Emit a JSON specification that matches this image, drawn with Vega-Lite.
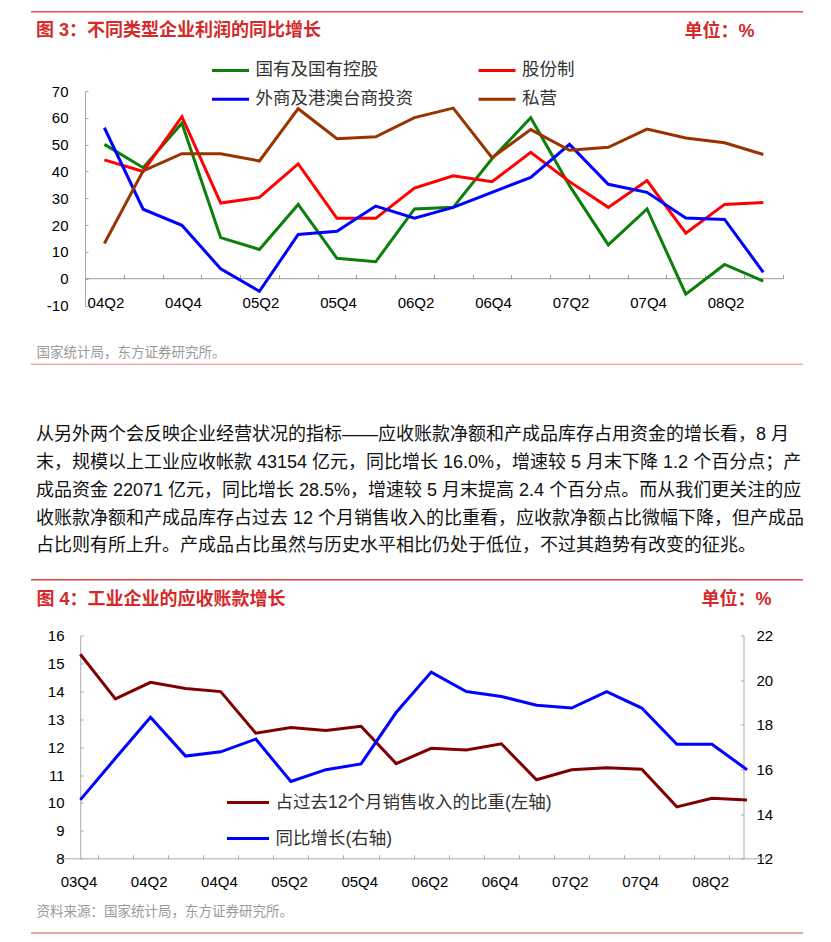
{
  "$schema": "https://vega.github.io/schema/vega-lite/v6.json",
  "padding": {"left": 30, "top": 10, "right": 0, "bottom": 0},
  "background": "white",
  "spacing": 59.5,
  "resolve": {"scale": {"color": "independent"}, "legend": {"color": "independent"}},
  "config": {
    "view": {"stroke": null},
    "font": "Liberation Sans, Noto Sans CJK SC",
    "axis": {"grid": false}
  },
  "datasets": {
    "c1": [
      {"q": "04Q2", "s": "国有及国有控股", "v": 50.1}, {"q": "04Q3", "s": "国有及国有控股", "v": 41.4}, {"q": "04Q4", "s": "国有及国有控股", "v": 58.0}, {"q": "05Q1", "s": "国有及国有控股", "v": 15.3}, {"q": "05Q2", "s": "国有及国有控股", "v": 10.9}, {"q": "05Q3", "s": "国有及国有控股", "v": 27.7}, {"q": "05Q4", "s": "国有及国有控股", "v": 7.6}, {"q": "06Q1", "s": "国有及国有控股", "v": 6.3}, {"q": "06Q2", "s": "国有及国有控股", "v": 26.0}, {"q": "06Q3", "s": "国有及国有控股", "v": 26.6}, {"q": "06Q4", "s": "国有及国有控股", "v": 44.7}, {"q": "07Q1", "s": "国有及国有控股", "v": 60.0}, {"q": "07Q2", "s": "国有及国有控股", "v": 34.7}, {"q": "07Q3", "s": "国有及国有控股", "v": 12.6}, {"q": "07Q4", "s": "国有及国有控股", "v": 26.0}, {"q": "08Q1", "s": "国有及国有控股", "v": -5.8}, {"q": "08Q2", "s": "国有及国有控股", "v": 5.3}, {"q": "08Q3", "s": "国有及国有控股", "v": -0.9},
      {"q": "04Q2", "s": "股份制", "v": 44.3}, {"q": "04Q3", "s": "股份制", "v": 40.0}, {"q": "04Q4", "s": "股份制", "v": 60.4}, {"q": "05Q1", "s": "股份制", "v": 28.2}, {"q": "05Q2", "s": "股份制", "v": 30.3}, {"q": "05Q3", "s": "股份制", "v": 42.8}, {"q": "05Q4", "s": "股份制", "v": 22.5}, {"q": "06Q1", "s": "股份制", "v": 22.5}, {"q": "06Q2", "s": "股份制", "v": 33.8}, {"q": "06Q3", "s": "股份制", "v": 38.4}, {"q": "06Q4", "s": "股份制", "v": 36.2}, {"q": "07Q1", "s": "股份制", "v": 47.1}, {"q": "07Q2", "s": "股份制", "v": 36.2}, {"q": "07Q3", "s": "股份制", "v": 26.6}, {"q": "07Q4", "s": "股份制", "v": 36.6}, {"q": "08Q1", "s": "股份制", "v": 17.0}, {"q": "08Q2", "s": "股份制", "v": 27.7}, {"q": "08Q3", "s": "股份制", "v": 28.4},
      {"q": "04Q2", "s": "外商及港澳台商投资", "v": 56.3}, {"q": "04Q3", "s": "外商及港澳台商投资", "v": 25.9}, {"q": "04Q4", "s": "外商及港澳台商投资", "v": 19.9}, {"q": "05Q1", "s": "外商及港澳台商投资", "v": 3.7}, {"q": "05Q2", "s": "外商及港澳台商投资", "v": -4.7}, {"q": "05Q3", "s": "外商及港澳台商投资", "v": 16.5}, {"q": "05Q4", "s": "外商及港澳台商投资", "v": 17.7}, {"q": "06Q1", "s": "外商及港澳台商投资", "v": 27.1}, {"q": "06Q2", "s": "外商及港澳台商投资", "v": 22.6}, {"q": "06Q3", "s": "外商及港澳台商投资", "v": 26.6}, {"q": "06Q4", "s": "外商及港澳台商投资", "v": 32.2}, {"q": "07Q1", "s": "外商及港澳台商投资", "v": 37.8}, {"q": "07Q2", "s": "外商及港澳台商投资", "v": 50.1}, {"q": "07Q3", "s": "外商及港澳台商投资", "v": 35.2}, {"q": "07Q4", "s": "外商及港澳台商投资", "v": 32.2}, {"q": "08Q1", "s": "外商及港澳台商投资", "v": 22.6}, {"q": "08Q2", "s": "外商及港澳台商投资", "v": 22.1}, {"q": "08Q3", "s": "外商及港澳台商投资", "v": 2.4},
      {"q": "04Q2", "s": "私营", "v": 13.1}, {"q": "04Q3", "s": "私营", "v": 40.2}, {"q": "04Q4", "s": "私营", "v": 46.6}, {"q": "05Q1", "s": "私营", "v": 46.6}, {"q": "05Q2", "s": "私营", "v": 43.9}, {"q": "05Q3", "s": "私营", "v": 63.4}, {"q": "05Q4", "s": "私营", "v": 52.2}, {"q": "06Q1", "s": "私营", "v": 52.9}, {"q": "06Q2", "s": "私营", "v": 60.1}, {"q": "06Q3", "s": "私营", "v": 63.6}, {"q": "06Q4", "s": "私营", "v": 45.1}, {"q": "07Q1", "s": "私营", "v": 55.6}, {"q": "07Q2", "s": "私营", "v": 47.9}, {"q": "07Q3", "s": "私营", "v": 49.0}, {"q": "07Q4", "s": "私营", "v": 55.8}, {"q": "08Q1", "s": "私营", "v": 52.5}, {"q": "08Q2", "s": "私营", "v": 50.7}, {"q": "08Q3", "s": "私营", "v": 46.3}
    ],
    "c2": [
      {"q": "03Q4", "r": 15.33, "g": 14.64}, {"q": "04Q1", "r": 13.73, "g": 16.5}, {"q": "04Q2", "r": 14.32, "g": 18.34}, {"q": "04Q3", "r": 14.10, "g": 16.6}, {"q": "04Q4", "r": 13.99, "g": 16.79},
      {"q": "05Q1", "r": 12.50, "g": 17.36}, {"q": "05Q2", "r": 12.70, "g": 15.46}, {"q": "05Q3", "r": 12.60, "g": 15.99}, {"q": "05Q4", "r": 12.75, "g": 16.25},
      {"q": "06Q1", "r": 11.41, "g": 18.55}, {"q": "06Q2", "r": 11.96, "g": 20.36}, {"q": "06Q3", "r": 11.90, "g": 19.49}, {"q": "06Q4", "r": 12.12, "g": 19.27},
      {"q": "07Q1", "r": 10.83, "g": 18.88}, {"q": "07Q2", "r": 11.19, "g": 18.75}, {"q": "07Q3", "r": 11.26, "g": 19.49}, {"q": "07Q4", "r": 11.21, "g": 18.75},
      {"q": "08Q1", "r": 9.86, "g": 17.13}, {"q": "08Q2", "r": 10.17, "g": 17.13}, {"q": "08Q3", "r": 10.11, "g": 15.99}
    ],
    "one": [{"k": 1}]
  },
  "vconcat": [
    {
      "width": 772,
      "height": 214.5,
      "title": {"text": "图 3：不同类型企业利润的同比增长", "anchor": "start", "frame": "group", "dx": 5, "offset": -29, "fontSize": 18, "fontWeight": "bold", "color": "#D42A2A"},
      "layer": [
        {
          "data": {"name": "one"},
          "mark": {"type": "rule", "color": "#E05555", "strokeWidth": 1.5},
          "encoding": {"y": {"datum": 99.57, "type": "quantitative"}}
        },
        {
          "data": {"name": "one"},
          "mark": {"type": "rule", "color": "#F2AAAA", "strokeWidth": 1.5},
          "encoding": {"y": {"datum": -31.93, "type": "quantitative"}}
        },
        {
          "data": {"name": "one"},
          "mark": {"type": "rule", "color": "#999999", "strokeWidth": 1},
          "encoding": {
            "y": {"datum": 0, "type": "quantitative"},
            "x": {"datum": "04Q2", "type": "ordinal", "bandPosition": 0},
            "x2": {"datum": "08Q3", "bandPosition": 1}
          }
        },
        {
          "data": {"name": "c1"},
          "mark": {"type": "line", "strokeWidth": 3, "strokeJoin": "miter"},
          "encoding": {
            "x": {
              "field": "q", "type": "ordinal", "bandPosition": 0.5,
              "scale": {"type": "band", "paddingInner": 0, "paddingOuter": 0.9585, "align": 0.7268},
              "axis": {
                "orient": "bottom", "offset": -26.8, "domain": false, "ticks": true, "tickBand": "extent",
                "tickSize": -4, "tickColor": "#999999", "labelAngle": 0, "labelFontSize": 15, "labelColor": "#000000",
                "labelPadding": 28, "labelBaseline": "middle", "labelOverlap": false, "labelOffset": 19.38,
                "labelExpr": "test(/Q[24]/, datum.value) ? datum.value : ''",
                "title": "国家统计局，东方证券研究所。", "titleX": 5, "titleY": 74, "titleAlign": "left",
                "titleBaseline": "middle", "titleFontSize": 13.5, "titleFontWeight": "normal", "titleColor": "#9A9A9A"
              }
            },
            "y": {
              "field": "v", "type": "quantitative",
              "scale": {"domain": [-10, 70], "nice": false, "zero": false},
              "axis": {
                "orient": "left", "offset": -54, "values": [-10, 0, 10, 20, 30, 40, 50, 60, 70], "tickCount": 20,
                "domainColor": "#AAAAAA", "tickColor": "#AAAAAA", "tickSize": -3, "labelPadding": 20,
                "labelFontSize": 15, "labelColor": "#000000", "labelExpr": "'' + datum.value", "labelOverlap": false,
                "title": "单位：%", "titleAngle": 0, "titleX": 599, "titleY": -60, "titleAlign": "left",
                "titleBaseline": "middle", "titleFontSize": 18, "titleFontWeight": "bold", "titleColor": "#D42A2A"
              }
            },
            "color": {
              "field": "s", "type": "nominal",
              "scale": {"domain": ["国有及国有控股", "外商及港澳台商投资", "股份制", "私营"], "range": ["#0A7F0A", "#0000FF", "#FF0000", "#993300"]},
              "legend": {
                "orient": "none", "legendX": 179.5, "legendY": -40.8, "columns": 2, "columnPadding": 58.5,
                "rowPadding": 0, "symbolType": "stroke", "symbolSize": 1369, "symbolStrokeWidth": 3,
                "labelFontSize": 17.5, "labelOffset": 5, "labelLimit": 400, "labelColor": "#333333",
                "title": null, "padding": 0
              }
            }
          }
        }
      ]
    },
    {
      "width": 772,
      "height": 223.3,
      "title": {
        "text": [
          "从另外两个会反映企业经营状况的指标——应收账款净额和产成品库存占用资金的增长看，8 月",
          "末，规模以上工业应收帐款 43154 亿元，同比增长 16.0%，增速较 5 月末下降 1.2 个百分点；产",
          "成品资金 22071 亿元，同比增长 28.5%，增速较 5 月末提高 2.4 个百分点。而从我们更关注的应",
          "收账款净额和产成品库存占过去 12 个月销售收入的比重看，应收款净额占比微幅下降，但产成品",
          "占比则有所上升。产成品占比虽然与历史水平相比仍处于低位，不过其趋势有改变的征兆。"
        ],
        "anchor": "start", "frame": "group", "dx": 5, "offset": 23.5, "fontSize": 18, "fontWeight": "normal",
        "color": "#111111", "lineHeight": 27.9
      },
      "resolve": {"scale": {"y": "independent"}},
      "layer": [
        {
          "layer": [
            {
              "data": {"name": "one"},
              "mark": {"type": "rule", "color": "#E04545", "strokeWidth": 1.5},
              "encoding": {"y": {"datum": 18.0, "type": "quantitative"}}
            },
            {
              "data": {"name": "one"},
              "mark": {"type": "rule", "color": "#E08585", "strokeWidth": 1.5},
              "encoding": {"y": {"datum": 5.338, "type": "quantitative"}}
            },
            {
              "data": {"name": "one"},
              "mark": {"type": "rule", "color": "#AAAAAA", "strokeWidth": 1},
              "encoding": {
                "y": {"datum": 8, "type": "quantitative"},
                "x": {"datum": "03Q4", "type": "ordinal", "bandPosition": 0},
                "x2": {"datum": "08Q3", "bandPosition": 1}
              }
            },
            {
              "data": {"name": "c2"},
              "mark": {"type": "line", "strokeWidth": 3, "strokeJoin": "miter"},
              "encoding": {
                "x": {
                  "field": "q", "type": "ordinal", "bandPosition": 0.5,
                  "scale": {"type": "band", "paddingInner": 0, "paddingOuter": 1.6388, "align": 0.4526},
                  "axis": {
                    "orient": "bottom", "offset": 0, "domain": false, "ticks": true, "tickBand": "extent",
                    "tickSize": -4, "tickColor": "#AAAAAA", "labelAngle": 0, "labelFontSize": 15, "labelColor": "#000000",
                    "labelPadding": 26.5, "labelBaseline": "middle", "labelOverlap": false, "labelOffset": 16.58,
                    "labelExpr": "test(/Q[24]/, datum.value) ? datum.value : ''",
                    "title": "资料来源：国家统计局，东方证券研究所。", "titleX": 5, "titleY": 52.7, "titleAlign": "left",
                    "titleBaseline": "middle", "titleFontSize": 13.5, "titleFontWeight": "normal", "titleColor": "#9A9A9A"
                  }
                },
                "y": {
                  "field": "r", "type": "quantitative",
                  "scale": {"domain": [8, 16], "nice": false, "zero": false},
                  "axis": {
                    "orient": "left", "offset": -49.2, "values": [8, 9, 10, 11, 12, 13, 14, 15, 16], "tickCount": 20,
                    "domainColor": "#AAAAAA", "tickColor": "#AAAAAA", "tickSize": -3, "labelPadding": 19.2,
                    "labelFontSize": 15, "labelColor": "#000000", "labelOverlap": false, "labelExpr": "'' + datum.value",
                    "title": "图 4：工业企业的应收账款增长", "titleAngle": 0, "titleX": -44.2, "titleY": -35.7, "titleAlign": "left",
                    "titleBaseline": "middle", "titleFontSize": 18, "titleFontWeight": "bold", "titleColor": "#D42A2A"
                  }
                },
                "color": {
                  "datum": "占过去12个月销售收入的比重(左轴)",
                  "scale": {"domain": ["占过去12个月销售收入的比重(左轴)", "同比增长(右轴)"], "range": ["#800000", "#0000FF"]},
                  "legend": {
                    "orient": "none", "legendX": 194.5, "legendY": 144.5, "direction": "vertical",
                    "rowPadding": 5, "symbolType": "stroke", "symbolSize": 1764, "symbolStrokeWidth": 3,
                    "labelFontSize": 17.5, "labelOffset": 5, "labelLimit": 400, "labelColor": "#333333",
                    "title": null, "padding": 0
                  }
                }
              }
            }
          ]
        },
        {
          "data": {"name": "c2"},
          "mark": {"type": "line", "strokeWidth": 3, "strokeJoin": "miter"},
          "encoding": {
            "x": {"field": "q", "type": "ordinal", "bandPosition": 0.5},
            "y": {
              "field": "g", "type": "quantitative",
              "scale": {"domain": [12, 22], "nice": false, "zero": false},
              "axis": {
                "orient": "right", "offset": -59.5, "values": [12, 14, 16, 18, 20, 22], "tickCount": 20,
                "domainColor": "#AAAAAA", "tickColor": "#AAAAAA", "tickSize": -3, "labelPadding": 15.5,
                "labelFontSize": 15, "labelColor": "#000000", "labelOverlap": false, "labelExpr": "'' + datum.value",
                "title": "单位：%", "titleAngle": 0, "titleX": -42.5, "titleY": -36, "titleAlign": "left",
                "titleBaseline": "middle", "titleFontSize": 18, "titleFontWeight": "bold", "titleColor": "#D42A2A"
              }
            },
            "color": {"datum": "同比增长(右轴)"}
          }
        }
      ]
    }
  ]
}
